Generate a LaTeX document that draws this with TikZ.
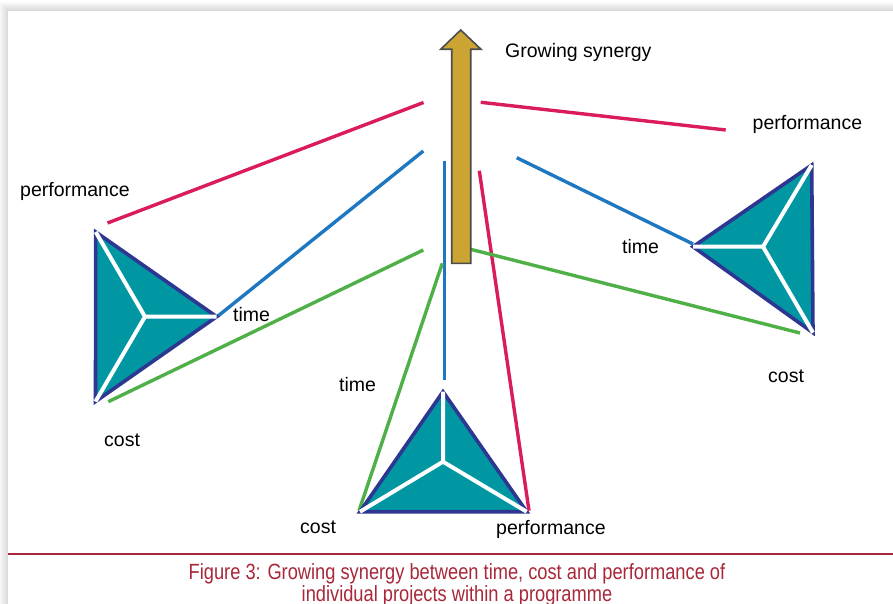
\documentclass[tikz,border=0pt]{standalone}
\usepackage{fontspec}
\setmainfont{Liberation Sans}
\newfontfamily\capfont[FakeStretch=0.83]{Liberation Sans}
\definecolor{facet}{RGB}{0,151,163}
\definecolor{rimblue}{RGB}{45,55,145}
\definecolor{perfred}{RGB}{218,28,92}
\definecolor{timeblue}{RGB}{30,120,193}
\definecolor{costgreen}{RGB}{80,176,72}
\definecolor{arrowgold}{RGB}{204,164,52}
\definecolor{capred}{RGB}{168,40,58}
\begin{document}
\begin{tikzpicture}[x=1pt,y=-1pt,
  label/.style={anchor=base west,inner sep=0pt,font=\fontsize{19.5}{22}\selectfont},
  caption/.style={anchor=base,inner sep=0pt,text=capred,font=\capfont\fontsize{22}{24}\selectfont},
  perfline/.style={draw=perfred,line width=3.4pt},
  timeline/.style={draw=timeblue,line width=3.4pt},
  costline/.style={draw=costgreen,line width=3.4pt},
  pyramid/.style={fill=facet,draw=rimblue,line width=3.6pt,line join=miter},
  ridge/.style={draw=white,line width=4pt},
  synergy/.style={fill=arrowgold,draw=black!70,line width=1.6pt,line join=miter}]
\useasboundingbox (0,0) rectangle (893,604);

% page with a soft shadow along its top and left edges
\fill[white] (0,0) rectangle (893,604);
\foreach \i in {1,...,9}
  \fill[black,opacity=0.015] (8-\i,11-\i) rectangle (900,610);
\fill[white] (8,11) rectangle (893,604);

% end points of the links
\coordinate (r1a) at (107.5,223);   \coordinate (r1b) at (423.5,102.5);
\coordinate (r2a) at (480.7,102.3); \coordinate (r2b) at (725.7,130);
\coordinate (r3a) at (479.3,170.7); \coordinate (r3b) at (529,510.7);
\coordinate (b1a) at (218,316);     \coordinate (b1b) at (423.3,151);
\coordinate (b2a) at (516.7,157.7); \coordinate (b2b) at (693,244);
\coordinate (b3a) at (444.3,160.7); \coordinate (b3b) at (444.3,380);
\coordinate (g1a) at (108.3,401.7); \coordinate (g1b) at (423.3,250);
\coordinate (g2a) at (470.7,249.3); \coordinate (g2b) at (800,333);
\coordinate (g3a) at (442.3,263.3); \coordinate (g3b) at (359,510.7);

% pyramid corners
\coordinate (lT) at (95.7,232);  \coordinate (lB) at (95.5,401.5);
\coordinate (lR) at (216.7,316.7); \coordinate (lC) at (145,316.7);
\coordinate (rT) at (811.7,165); \coordinate (rB) at (813,332.7);
\coordinate (rL) at (693,246.7); \coordinate (rC) at (763,246.7);
\coordinate (bT) at (443,391.7); \coordinate (bL) at (360,511.7);
\coordinate (bR) at (526.7,511.7); \coordinate (bC) at (443,461.7);

% links
\draw[perfline] (r1a) -- (r1b);
\draw[perfline] (r2a) -- (r2b);
\draw[perfline] (r3a) -- (r3b);
\draw[timeline] (b1a) -- (b1b);
\draw[timeline] (b2a) -- (b2b);
\draw[timeline] (b3a) -- (b3b);
\draw[costline] (g1a) -- (g1b);
\draw[costline] (g2a) -- (g2b);
\draw[costline] (g3a) -- (g3b);

% pyramids
\draw[pyramid] (lT) -- (lB) -- (lR) -- cycle;
\draw[ridge] (lC) -- (lT) (lC) -- (lB) (lC) -- (lR);
\draw[pyramid] (rT) -- (rB) -- (rL) -- cycle;
\draw[ridge] (rC) -- (rT) (rC) -- (rB) (rC) -- (rL);
\draw[pyramid] (bT) -- (bL) -- (bR) -- cycle;
\draw[ridge] (bC) -- (bT) (bC) -- (bL) (bC) -- (bR);

% growing synergy arrow
\draw[synergy] (451.7,263.3) -- (451.7,49.3) -- (440.7,49.3) -- (460.7,30)
  -- (481,49.3) -- (470.7,49.3) -- (470.7,263.3) -- cycle;

% labels
\node[label] (gs) at (505,58) {Growing synergy};
\node[label] (lperf) at (20,196.5) {performance};
\node[label] (ltime) at (233,321.5) {time};
\node[label] (lcost) at (104,446.5) {cost};
\node[label] (rperf) at (752.5,130) {performance};
\node[label] (rtime) at (622,253) {time};
\node[label] (rcost) at (768,382) {cost};
\node[label] (btime) at (339,391.5) {time};
\node[label] (bcost) at (300,533.3) {cost};
\node[label] (bperf) at (496,534.3) {performance};

% caption
\draw[capred,line width=1.5pt] (8,554) -- (893,554);
\node[caption] (cap1) at (457,579.5) {Figure 3: Growing synergy between time, cost and performance of};
\node[caption] (cap2) at (457,601) {individual projects within a programme};
\end{tikzpicture}
\end{document}
